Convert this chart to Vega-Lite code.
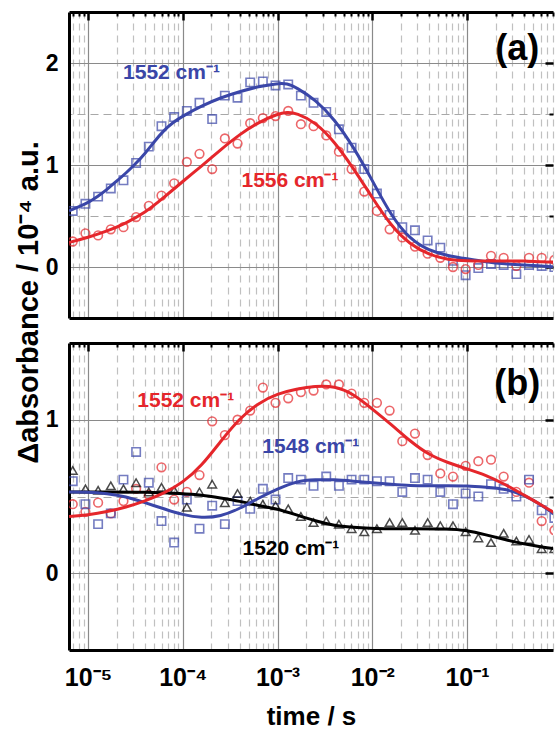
{
  "$schema": "https://vega.github.io/schema/vega-lite/v6.json",
  "background": "white",
  "padding": {"left": 14, "top": 10, "right": 0, "bottom": 0},
  "bounds": "flush",
  "spacing": 25,
  "config": {
    "view": {"stroke": null},
    "font": "Liberation Sans",
    "axis": {"labelFont": "Liberation Sans", "titleFont": "Liberation Sans", "labelFontWeight": "bold", "titleFontWeight": "bold", "labelColor": "black", "titleColor": "black", "labelFlush": false, "labelOverlap": false},
    "text": {"font": "Liberation Sans", "fontWeight": "bold"}
  },
  "datasets": {
    "a_pts": [
      {"s":"1552","t":6.9e-6,"v":0.55},{"s":"1552","t":9.39e-6,"v":0.62},{"s":"1552","t":1.278e-5,"v":0.69},{"s":"1552","t":1.739e-5,"v":0.77},{"s":"1552","t":2.366e-5,"v":0.85},{"s":"1552","t":3.219e-5,"v":1.02},{"s":"1552","t":4.381e-5,"v":1.18},{"s":"1552","t":5.963e-5,"v":1.38},{"s":"1552","t":8.11e-5,"v":1.47},{"s":"1552","t":1.104e-4,"v":1.53},{"s":"1552","t":1.502e-4,"v":1.61},{"s":"1552","t":2.044e-4,"v":1.45},{"s":"1552","t":2.781e-4,"v":1.68},{"s":"1552","t":3.784e-4,"v":1.66},{"s":"1552","t":5.148e-4,"v":1.81},{"s":"1552","t":7.004e-4,"v":1.82},{"s":"1552","t":9.53e-4,"v":1.78},{"s":"1552","t":1.297e-3,"v":1.79},{"s":"1552","t":1.765e-3,"v":1.68},{"s":"1552","t":2.401e-3,"v":1.61},{"s":"1552","t":3.267e-3,"v":1.52},{"s":"1552","t":4.446e-3,"v":1.35},{"s":"1552","t":6.05e-3,"v":1.17},{"s":"1552","t":8.23e-3,"v":0.96},{"s":"1552","t":1.12e-2,"v":0.72},{"s":"1552","t":1.524e-2,"v":0.51},{"s":"1552","t":2.074e-2,"v":0.39},{"s":"1552","t":2.822e-2,"v":0.36},{"s":"1552","t":3.84e-2,"v":0.26},{"s":"1552","t":5.224e-2,"v":0.19},{"s":"1552","t":7.108e-2,"v":0.06},{"s":"1552","t":9.67e-2,"v":-0.08},{"s":"1552","t":0.1316,"v":-0.01},{"s":"1552","t":0.1791,"v":0.03},{"s":"1552","t":0.2436,"v":0.02},{"s":"1552","t":0.3316,"v":-0.07},{"s":"1552","t":0.4512,"v":0.02},{"s":"1552","t":0.6139,"v":0.01},{"s":"1552","t":0.8353,"v":0.0},
      {"s":"1556","t":6.9e-6,"v":0.25},{"s":"1556","t":9.39e-6,"v":0.33},{"s":"1556","t":1.278e-5,"v":0.31},{"s":"1556","t":1.739e-5,"v":0.37},{"s":"1556","t":2.366e-5,"v":0.39},{"s":"1556","t":3.219e-5,"v":0.49},{"s":"1556","t":4.381e-5,"v":0.6},{"s":"1556","t":5.963e-5,"v":0.7},{"s":"1556","t":8.11e-5,"v":0.82},{"s":"1556","t":1.104e-4,"v":1.03},{"s":"1556","t":1.502e-4,"v":1.11},{"s":"1556","t":2.044e-4,"v":0.96},{"s":"1556","t":2.781e-4,"v":1.26},{"s":"1556","t":3.784e-4,"v":1.21},{"s":"1556","t":5.148e-4,"v":1.41},{"s":"1556","t":7.004e-4,"v":1.46},{"s":"1556","t":9.53e-4,"v":1.48},{"s":"1556","t":1.297e-3,"v":1.53},{"s":"1556","t":1.765e-3,"v":1.4},{"s":"1556","t":2.401e-3,"v":1.38},{"s":"1556","t":3.267e-3,"v":1.29},{"s":"1556","t":4.446e-3,"v":1.13},{"s":"1556","t":6.05e-3,"v":0.96},{"s":"1556","t":8.23e-3,"v":0.74},{"s":"1556","t":1.12e-2,"v":0.55},{"s":"1556","t":1.524e-2,"v":0.37},{"s":"1556","t":2.074e-2,"v":0.29},{"s":"1556","t":2.822e-2,"v":0.2},{"s":"1556","t":3.84e-2,"v":0.13},{"s":"1556","t":5.224e-2,"v":0.09},{"s":"1556","t":7.108e-2,"v":0.0},{"s":"1556","t":9.67e-2,"v":-0.02},{"s":"1556","t":0.1316,"v":0.02},{"s":"1556","t":0.1791,"v":0.11},{"s":"1556","t":0.2436,"v":0.09},{"s":"1556","t":0.3316,"v":0.01},{"s":"1556","t":0.4512,"v":0.09},{"s":"1556","t":0.6139,"v":0.09},{"s":"1556","t":0.8353,"v":0.07}
    ],
    "a_fit": [
      {"s":"1552","t":6.31e-6,"v":0.55},{"s":"1552","t":7.943e-6,"v":0.59},{"s":"1552","t":1e-5,"v":0.63},{"s":"1552","t":1.259e-5,"v":0.69},{"s":"1552","t":1.585e-5,"v":0.76},{"s":"1552","t":1.995e-5,"v":0.84},{"s":"1552","t":2.512e-5,"v":0.92},{"s":"1552","t":3.162e-5,"v":1.01},{"s":"1552","t":3.981e-5,"v":1.11},{"s":"1552","t":5.012e-5,"v":1.23},{"s":"1552","t":6.31e-5,"v":1.34},{"s":"1552","t":7.943e-5,"v":1.42},{"s":"1552","t":1e-4,"v":1.48},{"s":"1552","t":1.585e-4,"v":1.58},{"s":"1552","t":2.512e-4,"v":1.66},{"s":"1552","t":3.981e-4,"v":1.72},{"s":"1552","t":6.31e-4,"v":1.77},{"s":"1552","t":1e-3,"v":1.8},{"s":"1552","t":1.259e-3,"v":1.8},{"s":"1552","t":1.585e-3,"v":1.76},{"s":"1552","t":2.512e-3,"v":1.64},{"s":"1552","t":3.981e-3,"v":1.45},{"s":"1552","t":6.31e-3,"v":1.18},{"s":"1552","t":1e-2,"v":0.85},{"s":"1552","t":1.585e-2,"v":0.5},{"s":"1552","t":2.512e-2,"v":0.27},{"s":"1552","t":3.981e-2,"v":0.16},{"s":"1552","t":6.31e-2,"v":0.11},{"s":"1552","t":0.1,"v":0.08},{"s":"1552","t":0.1585,"v":0.05},{"s":"1552","t":0.2512,"v":0.03},{"s":"1552","t":0.3981,"v":0.02},{"s":"1552","t":0.631,"v":0.01},{"s":"1552","t":0.851,"v":0.0},
      {"s":"1556","t":6.31e-6,"v":0.24},{"s":"1556","t":1e-5,"v":0.29},{"s":"1556","t":1.585e-5,"v":0.35},{"s":"1556","t":2.512e-5,"v":0.43},{"s":"1556","t":3.981e-5,"v":0.53},{"s":"1556","t":6.31e-5,"v":0.68},{"s":"1556","t":1e-4,"v":0.84},{"s":"1556","t":1.585e-4,"v":0.99},{"s":"1556","t":2.512e-4,"v":1.15},{"s":"1556","t":3.981e-4,"v":1.3},{"s":"1556","t":6.31e-4,"v":1.42},{"s":"1556","t":1e-3,"v":1.5},{"s":"1556","t":1.259e-3,"v":1.52},{"s":"1556","t":1.585e-3,"v":1.51},{"s":"1556","t":2.512e-3,"v":1.42},{"s":"1556","t":3.981e-3,"v":1.23},{"s":"1556","t":6.31e-3,"v":0.97},{"s":"1556","t":1e-2,"v":0.68},{"s":"1556","t":1.585e-2,"v":0.4},{"s":"1556","t":2.512e-2,"v":0.22},{"s":"1556","t":3.981e-2,"v":0.12},{"s":"1556","t":6.31e-2,"v":0.07},{"s":"1556","t":0.1,"v":0.06},{"s":"1556","t":0.1585,"v":0.06},{"s":"1556","t":0.2512,"v":0.06},{"s":"1556","t":0.3981,"v":0.06},{"s":"1556","t":0.631,"v":0.05},{"s":"1556","t":0.851,"v":0.05}
    ],
    "b_pts": [
      {"s":"1552","t":6.9e-6,"v":0.45},{"s":"1552","t":9.39e-6,"v":0.4},{"s":"1552","t":1.278e-5,"v":0.46},{"s":"1552","t":1.739e-5,"v":0.39},{"s":"1552","t":2.366e-5,"v":0.47},{"s":"1552","t":3.219e-5,"v":0.55},{"s":"1552","t":4.381e-5,"v":0.51},{"s":"1552","t":5.963e-5,"v":0.69},{"s":"1552","t":8.11e-5,"v":0.48},{"s":"1552","t":1.104e-4,"v":0.53},{"s":"1552","t":1.502e-4,"v":0.64},{"s":"1552","t":2.044e-4,"v":0.99},{"s":"1552","t":2.781e-4,"v":0.9},{"s":"1552","t":3.784e-4,"v":1.0},{"s":"1552","t":5.148e-4,"v":1.06},{"s":"1552","t":7.004e-4,"v":1.21},{"s":"1552","t":9.53e-4,"v":1.11},{"s":"1552","t":1.297e-3,"v":1.14},{"s":"1552","t":1.765e-3,"v":1.18},{"s":"1552","t":2.401e-3,"v":1.19},{"s":"1552","t":3.267e-3,"v":1.23},{"s":"1552","t":4.446e-3,"v":1.23},{"s":"1552","t":6.05e-3,"v":1.17},{"s":"1552","t":8.23e-3,"v":1.11},{"s":"1552","t":1.12e-2,"v":1.11},{"s":"1552","t":1.524e-2,"v":1.06},{"s":"1552","t":2.074e-2,"v":0.86},{"s":"1552","t":2.822e-2,"v":0.91},{"s":"1552","t":3.84e-2,"v":0.77},{"s":"1552","t":5.224e-2,"v":0.65},{"s":"1552","t":7.108e-2,"v":0.63},{"s":"1552","t":9.67e-2,"v":0.7},{"s":"1552","t":0.1316,"v":0.73},{"s":"1552","t":0.1791,"v":0.74},{"s":"1552","t":0.2436,"v":0.63},{"s":"1552","t":0.3316,"v":0.53},{"s":"1552","t":0.4512,"v":0.59},{"s":"1552","t":0.6139,"v":0.34},{"s":"1552","t":0.8353,"v":0.28},
      {"s":"1548","t":6.9e-6,"v":0.6},{"s":"1548","t":9.39e-6,"v":0.45},{"s":"1548","t":1.278e-5,"v":0.32},{"s":"1548","t":1.739e-5,"v":0.39},{"s":"1548","t":2.366e-5,"v":0.61},{"s":"1548","t":3.219e-5,"v":0.79},{"s":"1548","t":4.381e-5,"v":0.59},{"s":"1548","t":5.963e-5,"v":0.34},{"s":"1548","t":8.11e-5,"v":0.2},{"s":"1548","t":1.104e-4,"v":0.48},{"s":"1548","t":1.502e-4,"v":0.29},{"s":"1548","t":2.044e-4,"v":0.44},{"s":"1548","t":2.781e-4,"v":0.32},{"s":"1548","t":3.784e-4,"v":0.47},{"s":"1548","t":5.148e-4,"v":0.42},{"s":"1548","t":7.004e-4,"v":0.55},{"s":"1548","t":9.53e-4,"v":0.48},{"s":"1548","t":1.297e-3,"v":0.62},{"s":"1548","t":1.765e-3,"v":0.61},{"s":"1548","t":2.401e-3,"v":0.57},{"s":"1548","t":3.267e-3,"v":0.63},{"s":"1548","t":4.446e-3,"v":0.57},{"s":"1548","t":6.05e-3,"v":0.61},{"s":"1548","t":8.23e-3,"v":0.61},{"s":"1548","t":1.12e-2,"v":0.6},{"s":"1548","t":1.524e-2,"v":0.6},{"s":"1548","t":2.074e-2,"v":0.53},{"s":"1548","t":2.822e-2,"v":0.62},{"s":"1548","t":3.84e-2,"v":0.61},{"s":"1548","t":5.224e-2,"v":0.53},{"s":"1548","t":7.108e-2,"v":0.45},{"s":"1548","t":9.67e-2,"v":0.52},{"s":"1548","t":0.1316,"v":0.5},{"s":"1548","t":0.1791,"v":0.58},{"s":"1548","t":0.2436,"v":0.55},{"s":"1548","t":0.3316,"v":0.5},{"s":"1548","t":0.4512,"v":0.61},{"s":"1548","t":0.6139,"v":0.41},{"s":"1548","t":0.8353,"v":0.36},
      {"s":"1520","t":6.9e-6,"v":0.67},{"s":"1520","t":9.39e-6,"v":0.55},{"s":"1520","t":1.278e-5,"v":0.54},{"s":"1520","t":1.739e-5,"v":0.57},{"s":"1520","t":2.366e-5,"v":0.55},{"s":"1520","t":3.219e-5,"v":0.59},{"s":"1520","t":4.381e-5,"v":0.53},{"s":"1520","t":5.963e-5,"v":0.56},{"s":"1520","t":8.11e-5,"v":0.54},{"s":"1520","t":1.104e-4,"v":0.43},{"s":"1520","t":1.502e-4,"v":0.53},{"s":"1520","t":2.044e-4,"v":0.58},{"s":"1520","t":2.781e-4,"v":0.46},{"s":"1520","t":3.784e-4,"v":0.52},{"s":"1520","t":5.148e-4,"v":0.47},{"s":"1520","t":7.004e-4,"v":0.45},{"s":"1520","t":9.53e-4,"v":0.44},{"s":"1520","t":1.297e-3,"v":0.42},{"s":"1520","t":1.765e-3,"v":0.37},{"s":"1520","t":2.401e-3,"v":0.33},{"s":"1520","t":3.267e-3,"v":0.34},{"s":"1520","t":4.446e-3,"v":0.32},{"s":"1520","t":6.05e-3,"v":0.29},{"s":"1520","t":8.23e-3,"v":0.27},{"s":"1520","t":1.12e-2,"v":0.29},{"s":"1520","t":1.524e-2,"v":0.33},{"s":"1520","t":2.074e-2,"v":0.33},{"s":"1520","t":2.822e-2,"v":0.28},{"s":"1520","t":3.84e-2,"v":0.33},{"s":"1520","t":5.224e-2,"v":0.31},{"s":"1520","t":7.108e-2,"v":0.31},{"s":"1520","t":9.67e-2,"v":0.27},{"s":"1520","t":0.1316,"v":0.23},{"s":"1520","t":0.1791,"v":0.2},{"s":"1520","t":0.2436,"v":0.26},{"s":"1520","t":0.3316,"v":0.21},{"s":"1520","t":0.4512,"v":0.22},{"s":"1520","t":0.6139,"v":0.16},{"s":"1520","t":0.8353,"v":0.16}
    ],
    "b_fit": [
      {"s":"1552","t":6.31e-6,"v":0.37},{"s":"1552","t":1e-5,"v":0.38},{"s":"1552","t":1.585e-5,"v":0.4},{"s":"1552","t":2.512e-5,"v":0.43},{"s":"1552","t":3.981e-5,"v":0.47},{"s":"1552","t":6.31e-5,"v":0.52},{"s":"1552","t":1e-4,"v":0.59},{"s":"1552","t":1.585e-4,"v":0.7},{"s":"1552","t":2.512e-4,"v":0.86},{"s":"1552","t":3.981e-4,"v":1.01},{"s":"1552","t":6.31e-4,"v":1.11},{"s":"1552","t":1e-3,"v":1.17},{"s":"1552","t":1.585e-3,"v":1.2},{"s":"1552","t":2.512e-3,"v":1.22},{"s":"1552","t":3.981e-3,"v":1.22},{"s":"1552","t":6.31e-3,"v":1.17},{"s":"1552","t":1e-2,"v":1.07},{"s":"1552","t":1.585e-2,"v":0.97},{"s":"1552","t":2.512e-2,"v":0.86},{"s":"1552","t":3.981e-2,"v":0.77},{"s":"1552","t":6.31e-2,"v":0.72},{"s":"1552","t":0.1,"v":0.68},{"s":"1552","t":0.1585,"v":0.64},{"s":"1552","t":0.2512,"v":0.58},{"s":"1552","t":0.3981,"v":0.51},{"s":"1552","t":0.631,"v":0.44},{"s":"1552","t":0.851,"v":0.39},
      {"s":"1548","t":6.31e-6,"v":0.53},{"s":"1548","t":1e-5,"v":0.53},{"s":"1548","t":1.585e-5,"v":0.52},{"s":"1548","t":2.512e-5,"v":0.5},{"s":"1548","t":3.981e-5,"v":0.46},{"s":"1548","t":6.31e-5,"v":0.42},{"s":"1548","t":1e-4,"v":0.38},{"s":"1548","t":1.585e-4,"v":0.36},{"s":"1548","t":2.512e-4,"v":0.37},{"s":"1548","t":3.981e-4,"v":0.42},{"s":"1548","t":6.31e-4,"v":0.49},{"s":"1548","t":1e-3,"v":0.55},{"s":"1548","t":1.585e-3,"v":0.6},{"s":"1548","t":2.512e-3,"v":0.61},{"s":"1548","t":3.981e-3,"v":0.61},{"s":"1548","t":6.31e-3,"v":0.6},{"s":"1548","t":1e-2,"v":0.59},{"s":"1548","t":1.585e-2,"v":0.58},{"s":"1548","t":2.512e-2,"v":0.57},{"s":"1548","t":3.981e-2,"v":0.57},{"s":"1548","t":6.31e-2,"v":0.57},{"s":"1548","t":0.1,"v":0.57},{"s":"1548","t":0.1585,"v":0.56},{"s":"1548","t":0.2512,"v":0.55},{"s":"1548","t":0.3981,"v":0.51},{"s":"1548","t":0.631,"v":0.44},{"s":"1548","t":0.851,"v":0.38},
      {"s":"1520","t":6.31e-6,"v":0.53},{"s":"1520","t":1.585e-5,"v":0.53},{"s":"1520","t":3.981e-5,"v":0.53},{"s":"1520","t":1e-4,"v":0.52},{"s":"1520","t":1.585e-4,"v":0.51},{"s":"1520","t":2.512e-4,"v":0.49},{"s":"1520","t":3.981e-4,"v":0.47},{"s":"1520","t":6.31e-4,"v":0.44},{"s":"1520","t":1e-3,"v":0.42},{"s":"1520","t":1.585e-3,"v":0.38},{"s":"1520","t":2.512e-3,"v":0.34},{"s":"1520","t":3.981e-3,"v":0.31},{"s":"1520","t":6.31e-3,"v":0.3},{"s":"1520","t":1e-2,"v":0.29},{"s":"1520","t":2.512e-2,"v":0.29},{"s":"1520","t":6.31e-2,"v":0.29},{"s":"1520","t":0.1,"v":0.28},{"s":"1520","t":0.1585,"v":0.25},{"s":"1520","t":0.2512,"v":0.22},{"s":"1520","t":0.3981,"v":0.19},{"s":"1520","t":0.631,"v":0.17},{"s":"1520","t":0.851,"v":0.16}
    ]
  },
  "vconcat": [
    {
      "width": 484,
      "height": 306,
      "resolve": {"axis": {"x": "independent", "y": "independent"}},
      "layer": [
        {
          "mark": {"type": "rule", "color": "black", "strokeWidth": 3},
          "encoding": {"y": {"datum": 0, "type": "quantitative", "scale": {"domain": [-0.5, 2.5], "nice": false, "zero": false}, "axis": null}}
        },
        {
          "data": {"name": "a_pts"},
          "transform": [{"filter": "datum.s == '1552'"}],
          "mark": {"type": "point", "shape": "square", "filled": false, "color": "#3a46a8", "size": 70, "strokeWidth": 1.6, "clip": true},
          "encoding": {
            "x": {"field": "t", "type": "quantitative", "scale": {"type": "log", "domain": [6.3e-6, 0.808], "nice": false},
              "axis": {"values": [1e-5, 1e-4, 1e-3, 1e-2, 1e-1], "grid": true, "gridColor": "#8a8a8a", "gridWidth": 1.2, "ticks": false, "labels": false, "domain": true, "domainColor": "black", "domainWidth": 3, "title": null}},
            "y": {"field": "v", "type": "quantitative", "scale": {"domain": [-0.5, 2.5], "nice": false, "zero": false},
              "axis": {"values": [0, 1, 2], "format": "d", "grid": true, "gridColor": "#8a8a8a", "gridWidth": 1.2, "ticks": false, "labels": true, "labelFontSize": 23, "labelPadding": 11, "domain": true, "domainColor": "black", "domainWidth": 3,
                "title": "Δabsorbance / 10⁻⁴ a.u.", "titleFontSize": 29, "titleX": -32, "titleY": 290, "titleAngle": 270, "titleBaseline": "alphabetic", "titleAlign": "center"}}
          }
        },
        {
          "data": {"name": "a_pts"},
          "transform": [{"filter": "datum.s == '1556'"}],
          "mark": {"type": "point", "shape": "circle", "filled": false, "color": "#e5262b", "size": 75, "strokeWidth": 1.6, "clip": true},
          "encoding": {
            "x": {"field": "t", "type": "quantitative", "scale": {"type": "log", "domain": [6.3e-6, 0.808], "nice": false},
              "axis": {"values": [7e-6, 8e-6, 9e-6, 2e-5, 3e-5, 4e-5, 5e-5, 6e-5, 7e-5, 8e-5, 9e-5, 2e-4, 3e-4, 4e-4, 5e-4, 6e-4, 7e-4, 8e-4, 9e-4, 2e-3, 3e-3, 4e-3, 5e-3, 6e-3, 7e-3, 8e-3, 9e-3, 2e-2, 3e-2, 4e-2, 5e-2, 6e-2, 7e-2, 8e-2, 9e-2, 0.2, 0.3, 0.4, 0.5, 0.6, 0.7, 0.8],
                "grid": true, "gridColor": "#c0c0c0", "gridDash": [7, 5], "gridWidth": 1.2, "ticks": true, "tickSize": -4, "tickWidth": 2, "tickColor": "black", "labels": false, "domain": false, "title": null}},
            "y": {"field": "v", "type": "quantitative", "scale": {"domain": [-0.5, 2.5], "nice": false, "zero": false},
              "axis": {"values": [0.5, 1.5], "grid": true, "gridColor": "#a8a8a8", "gridDash": [8, 5], "gridWidth": 1.2, "ticks": true, "tickSize": -4, "tickWidth": 2, "tickColor": "black", "labels": false, "domain": false, "title": null}}
          }
        },
        {
          "data": {"name": "a_fit"},
          "transform": [{"filter": "datum.s == '1552'"}],
          "mark": {"type": "line", "color": "#3a46a8", "strokeWidth": 3, "interpolate": "basis", "clip": true},
          "encoding": {
            "x": {"field": "t", "type": "quantitative", "scale": {"type": "log", "domain": [6.3e-6, 0.808], "nice": false},
              "axis": {"values": [1e-5, 1e-4, 1e-3, 1e-2, 1e-1], "grid": false, "ticks": true, "tickSize": -8, "tickWidth": 2.5, "tickColor": "black", "labels": false, "domain": false, "title": null}},
            "y": {"field": "v", "type": "quantitative", "scale": {"domain": [-0.5, 2.5], "nice": false, "zero": false},
              "axis": {"values": [0, 1, 2], "grid": false, "ticks": true, "tickSize": -8, "tickWidth": 2.5, "tickColor": "black", "labels": false, "domain": false, "title": null}}
          }
        },
        {
          "data": {"name": "a_fit"},
          "transform": [{"filter": "datum.s == '1556'"}],
          "mark": {"type": "line", "color": "#e5262b", "strokeWidth": 3, "interpolate": "basis", "clip": true},
          "encoding": {
            "x": {"field": "t", "type": "quantitative", "scale": {"type": "log", "domain": [6.3e-6, 0.808], "nice": false},
              "axis": {"orient": "top", "grid": false, "ticks": false, "labels": false, "domain": true, "domainColor": "black", "domainWidth": 3, "title": null}},
            "y": {"field": "v", "type": "quantitative", "scale": {"domain": [-0.5, 2.5], "nice": false, "zero": false}, "axis": null}
          }
        },
        {
          "data": {"values": [{"label": "1552 cm⁻¹", "t": 2.344e-5, "v": 1.9}]},
          "mark": {"type": "text", "color": "#3a46a8", "fontSize": 21, "fontWeight": "bold", "align": "left", "baseline": "middle"},
          "encoding": {
            "x": {"field": "t", "type": "quantitative", "scale": {"type": "log", "domain": [6.3e-6, 0.808], "nice": false}, "axis": null},
            "y": {"field": "v", "type": "quantitative", "scale": {"domain": [-0.5, 2.5], "nice": false, "zero": false}, "axis": null},
            "text": {"field": "label"}
          }
        },
        {
          "data": {"values": [{"label": "1556 cm⁻¹", "t": 4.169e-4, "v": 0.84}]},
          "mark": {"type": "text", "color": "#e5262b", "fontSize": 21, "fontWeight": "bold", "align": "left", "baseline": "middle"},
          "encoding": {
            "x": {"field": "t", "type": "quantitative", "scale": {"type": "log", "domain": [6.3e-6, 0.808], "nice": false}, "axis": null},
            "y": {"field": "v", "type": "quantitative", "scale": {"domain": [-0.5, 2.5], "nice": false, "zero": false}, "axis": null},
            "text": {"field": "label"}
          }
        },
        {
          "data": {"values": [{"label": "(a)", "t": 0.3388, "v": 2.14}]},
          "mark": {"type": "text", "color": "black", "fontSize": 36, "fontWeight": "bold", "align": "center", "baseline": "middle"},
          "encoding": {
            "x": {"field": "t", "type": "quantitative", "scale": {"type": "log", "domain": [6.3e-6, 0.808], "nice": false}, "axis": null},
            "y": {"field": "v", "type": "quantitative", "scale": {"domain": [-0.5, 2.5], "nice": false, "zero": false}, "axis": null},
            "text": {"field": "label"}
          }
        }
      ]
    },
    {
      "width": 484,
      "height": 307,
      "resolve": {"axis": {"x": "independent", "y": "independent"}},
      "layer": [
        {
          "mark": {"type": "rule", "color": "black", "strokeWidth": 3},
          "encoding": {"y": {"datum": 0, "type": "quantitative", "scale": {"domain": [-0.5, 1.5], "nice": false, "zero": false}, "axis": null}}
        },
        {
          "data": {"name": "b_pts"},
          "transform": [{"filter": "datum.s == '1552'"}],
          "mark": {"type": "point", "shape": "circle", "filled": false, "color": "#e5262b", "size": 75, "strokeWidth": 1.6, "clip": true},
          "encoding": {
            "x": {"field": "t", "type": "quantitative", "scale": {"type": "log", "domain": [6.3e-6, 0.808], "nice": false},
              "axis": {"values": [1e-5, 1e-4, 1e-3, 1e-2, 1e-1], "grid": true, "gridColor": "#8a8a8a", "gridWidth": 1.2, "ticks": false, "labels": true, "labelFontSize": 25, "labelPadding": 35, "labelBaseline": "alphabetic",
                "labelExpr": "datum.value < 5e-5 ? '10⁻⁵' : datum.value < 5e-4 ? '10⁻⁴' : datum.value < 5e-3 ? '10⁻³' : datum.value < 5e-2 ? '10⁻²' : '10⁻¹'",
                "domain": true, "domainColor": "black", "domainWidth": 3,
                "title": "time / s", "titleFontSize": 26, "titleY": 74, "titleBaseline": "alphabetic"}},
            "y": {"field": "v", "type": "quantitative", "scale": {"domain": [-0.5, 1.5], "nice": false, "zero": false},
              "axis": {"values": [0, 1], "format": "d", "grid": true, "gridColor": "#8a8a8a", "gridWidth": 1.2, "ticks": false, "labels": true, "labelFontSize": 23, "labelPadding": 11, "domain": true, "domainColor": "black", "domainWidth": 3, "title": null}}
          }
        },
        {
          "data": {"name": "b_pts"},
          "transform": [{"filter": "datum.s == '1548'"}],
          "mark": {"type": "point", "shape": "square", "filled": false, "color": "#3a46a8", "size": 70, "strokeWidth": 1.6, "clip": true},
          "encoding": {
            "x": {"field": "t", "type": "quantitative", "scale": {"type": "log", "domain": [6.3e-6, 0.808], "nice": false},
              "axis": {"values": [7e-6, 8e-6, 9e-6, 2e-5, 3e-5, 4e-5, 5e-5, 6e-5, 7e-5, 8e-5, 9e-5, 2e-4, 3e-4, 4e-4, 5e-4, 6e-4, 7e-4, 8e-4, 9e-4, 2e-3, 3e-3, 4e-3, 5e-3, 6e-3, 7e-3, 8e-3, 9e-3, 2e-2, 3e-2, 4e-2, 5e-2, 6e-2, 7e-2, 8e-2, 9e-2, 0.2, 0.3, 0.4, 0.5, 0.6, 0.7, 0.8],
                "grid": true, "gridColor": "#c0c0c0", "gridDash": [7, 5], "gridWidth": 1.2, "ticks": true, "tickSize": -4, "tickWidth": 2, "tickColor": "black", "labels": false, "domain": false, "title": null}},
            "y": {"field": "v", "type": "quantitative", "scale": {"domain": [-0.5, 1.5], "nice": false, "zero": false},
              "axis": {"values": [0.5], "grid": true, "gridColor": "#a8a8a8", "gridDash": [8, 5], "gridWidth": 1.2, "ticks": true, "tickSize": -4, "tickWidth": 2, "tickColor": "black", "labels": false, "domain": false, "title": null}}
          }
        },
        {
          "data": {"name": "b_pts"},
          "transform": [{"filter": "datum.s == '1520'"}],
          "mark": {"type": "point", "shape": "triangle-up", "filled": false, "color": "black", "size": 75, "strokeWidth": 1.5, "clip": true},
          "encoding": {
            "x": {"field": "t", "type": "quantitative", "scale": {"type": "log", "domain": [6.3e-6, 0.808], "nice": false},
              "axis": {"values": [1e-5, 1e-4, 1e-3, 1e-2, 1e-1], "grid": false, "ticks": true, "tickSize": -8, "tickWidth": 2.5, "tickColor": "black", "labels": false, "domain": false, "title": null}},
            "y": {"field": "v", "type": "quantitative", "scale": {"domain": [-0.5, 1.5], "nice": false, "zero": false},
              "axis": {"values": [0, 1], "grid": false, "ticks": true, "tickSize": -8, "tickWidth": 2.5, "tickColor": "black", "labels": false, "domain": false, "title": null}}
          }
        },
        {
          "data": {"name": "b_fit"},
          "transform": [{"filter": "datum.s == '1520'"}],
          "mark": {"type": "line", "color": "black", "strokeWidth": 3, "interpolate": "basis", "clip": true},
          "encoding": {
            "x": {"field": "t", "type": "quantitative", "scale": {"type": "log", "domain": [6.3e-6, 0.808], "nice": false},
              "axis": {"orient": "top", "grid": false, "ticks": false, "labels": false, "domain": true, "domainColor": "black", "domainWidth": 3, "title": null}},
            "y": {"field": "v", "type": "quantitative", "scale": {"domain": [-0.5, 1.5], "nice": false, "zero": false}, "axis": null}
          }
        },
        {
          "data": {"name": "b_fit"},
          "transform": [{"filter": "datum.s == '1548'"}],
          "mark": {"type": "line", "color": "#3a46a8", "strokeWidth": 3, "interpolate": "basis", "clip": true},
          "encoding": {
            "x": {"field": "t", "type": "quantitative", "scale": {"type": "log", "domain": [6.3e-6, 0.808], "nice": false}, "axis": null},
            "y": {"field": "v", "type": "quantitative", "scale": {"domain": [-0.5, 1.5], "nice": false, "zero": false}, "axis": null}
          }
        },
        {
          "data": {"name": "b_fit"},
          "transform": [{"filter": "datum.s == '1552'"}],
          "mark": {"type": "line", "color": "#e5262b", "strokeWidth": 3, "interpolate": "basis", "clip": true},
          "encoding": {
            "x": {"field": "t", "type": "quantitative", "scale": {"type": "log", "domain": [6.3e-6, 0.808], "nice": false}, "axis": null},
            "y": {"field": "v", "type": "quantitative", "scale": {"domain": [-0.5, 1.5], "nice": false, "zero": false}, "axis": null}
          }
        },
        {
          "data": {"values": [{"label": "1552 cm⁻¹", "t": 3.311e-5, "v": 1.12}]},
          "mark": {"type": "text", "color": "#e5262b", "fontSize": 21, "fontWeight": "bold", "align": "left", "baseline": "middle"},
          "encoding": {
            "x": {"field": "t", "type": "quantitative", "scale": {"type": "log", "domain": [6.3e-6, 0.808], "nice": false}, "axis": null},
            "y": {"field": "v", "type": "quantitative", "scale": {"domain": [-0.5, 1.5], "nice": false, "zero": false}, "axis": null},
            "text": {"field": "label"}
          }
        },
        {
          "data": {"values": [{"label": "1548 cm⁻¹", "t": 6.918e-4, "v": 0.82}]},
          "mark": {"type": "text", "color": "#3a46a8", "fontSize": 21, "fontWeight": "bold", "align": "left", "baseline": "middle"},
          "encoding": {
            "x": {"field": "t", "type": "quantitative", "scale": {"type": "log", "domain": [6.3e-6, 0.808], "nice": false}, "axis": null},
            "y": {"field": "v", "type": "quantitative", "scale": {"domain": [-0.5, 1.5], "nice": false, "zero": false}, "axis": null},
            "text": {"field": "label"}
          }
        },
        {
          "data": {"values": [{"label": "1520 cm⁻¹", "t": 4.266e-4, "v": 0.16}]},
          "mark": {"type": "text", "color": "black", "fontSize": 21, "fontWeight": "bold", "align": "left", "baseline": "middle"},
          "encoding": {
            "x": {"field": "t", "type": "quantitative", "scale": {"type": "log", "domain": [6.3e-6, 0.808], "nice": false}, "axis": null},
            "y": {"field": "v", "type": "quantitative", "scale": {"domain": [-0.5, 1.5], "nice": false, "zero": false}, "axis": null},
            "text": {"field": "label"}
          }
        },
        {
          "data": {"values": [{"label": "(b)", "t": 0.3388, "v": 1.23}]},
          "mark": {"type": "text", "color": "black", "fontSize": 36, "fontWeight": "bold", "align": "center", "baseline": "middle"},
          "encoding": {
            "x": {"field": "t", "type": "quantitative", "scale": {"type": "log", "domain": [6.3e-6, 0.808], "nice": false}, "axis": null},
            "y": {"field": "v", "type": "quantitative", "scale": {"domain": [-0.5, 1.5], "nice": false, "zero": false}, "axis": null},
            "text": {"field": "label"}
          }
        }
      ]
    }
  ]
}
